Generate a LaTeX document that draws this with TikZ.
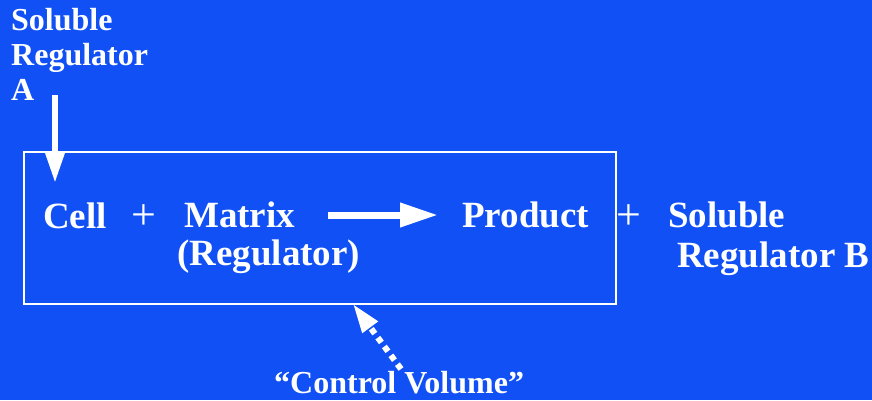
\documentclass[tikz,border=0pt]{standalone}
\usepackage{fontspec}
\setmainfont{Liberation Serif}
\usetikzlibrary{arrows.meta}
\definecolor{bgblue}{RGB}{16,80,245}
\tikzset{
  lbl/.style={anchor=base west, inner sep=0pt, text=white, font=\bfseries\fontsize{37}{39}\selectfont},
  smalllbl/.style={anchor=base west, inner sep=0pt, text=white, font=\bfseries\fontsize{32}{35}\selectfont},
  plussign/.style={anchor=base, inner sep=0pt, text=white, font=\fontsize{44}{46}\selectfont},
  bigarrow/.style={draw=white, line width=7pt, -{Triangle[length=38pt,width=23pt]}},
  downarrow/.style={draw=white, line width=6pt, -{Triangle[length=30pt,width=18pt]}},
  dotarrow/.style={draw=white, line width=6pt, dash pattern=on 6pt off 5pt, -{Triangle[length=29pt,width=18pt]}},
}
\begin{document}
\begin{tikzpicture}[x=1pt,y=-1pt]
\useasboundingbox (0,0) rectangle (872,400);
\fill[bgblue] (0,0) rectangle (872,400);
% control volume box
\node (box) [draw=white, line width=2pt, anchor=north west, inner sep=0pt,
  minimum width=592pt, minimum height=152pt] at (23,151) {};
% regulator A
\node (solA) [smalllbl] at (11,30) {Soluble};
\node (regA) [smalllbl] at (11,65) {Regulator};
\node (letA) [smalllbl] at (11,100) {A};
\coordinate (aStart) at (55,95);
\coordinate (aEnd) at (55,183);
\draw[downarrow] (aStart) -- (aEnd);
% reaction
\node (cell) [lbl] at (43,228) {Cell};
\node (plus1) [plussign] at (144,229) {+};
\node (matrix) [lbl] at (184,227) {Matrix};
\node (matreg) [lbl] at (177,265) {(Regulator)};
\coordinate (rStart) at (328,215);
\coordinate (rEnd) at (438,215);
\draw[bigarrow] (rStart) -- (rEnd);
\node (product) [lbl] at (462,227) {Product};
\node (plus2) [plussign] at (629,229) {+};
\node (solB) [lbl] at (668,227) {Soluble};
\node (regB) [lbl] at (677,267) {Regulator B};
% control volume label
\node (cvlabel) [smalllbl] at (274,393) {“Control Volume”};
\coordinate (dStart) at (401,369);
\coordinate (dEnd) at (353,304);
\draw[dotarrow] (dStart) -- (dEnd);
\end{tikzpicture}
\end{document}
